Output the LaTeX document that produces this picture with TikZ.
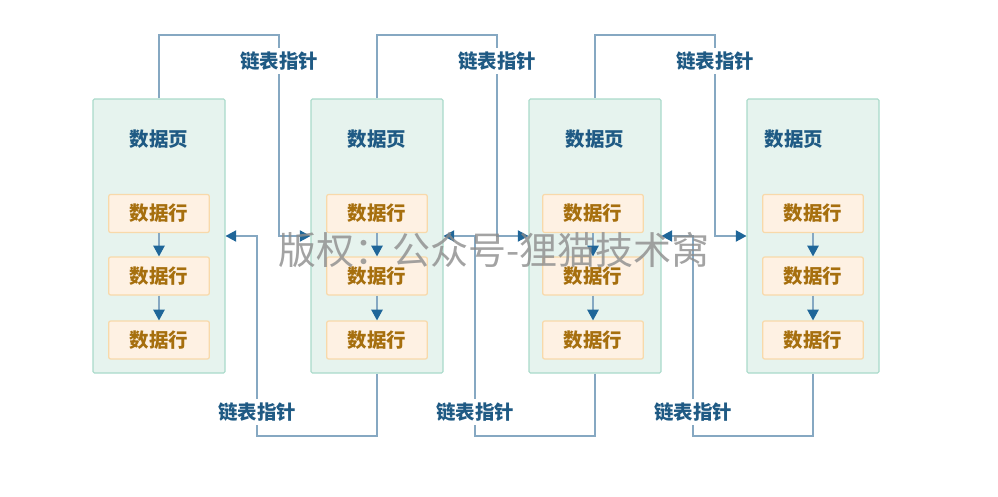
\documentclass[tikz,border=0pt]{standalone}
\usepackage{fontspec}
\setmainfont{Noto Sans CJK SC}
\usetikzlibrary{arrows.meta}

\definecolor{pagefill}{HTML}{E6F3EE}
\definecolor{pageline}{HTML}{A9DACA}
\definecolor{rowfill}{HTML}{FEF1E3}
\definecolor{rowline}{HTML}{F8D9AA}
\definecolor{rowtext}{HTML}{A66F0E}
\definecolor{titletext}{HTML}{1F5A84}
\definecolor{linkline}{HTML}{86A8C2}
\definecolor{tipblue}{HTML}{1F6699}

\tikzstyle{page} = [rectangle, draw=pageline, fill=pagefill, line width=0.8pt,
		rounded corners=1pt, minimum width=99pt, minimum height=205.5pt, inner sep=0pt]
\tikzstyle{rowbox} = [rectangle, draw=rowline, fill=rowfill, line width=0.9pt,
		rounded corners=1.5pt, minimum width=75.5pt, minimum height=28.5pt, inner sep=0pt,
		text=rowtext, font=\fontsize{14.6}{16}\selectfont\bfseries]
\tikzstyle{title} = [text=titletext, font=\fontsize{14.6}{16}\selectfont\bfseries]
\tikzstyle{ptr} = [fill=white, inner sep=3pt, text=titletext,
		font=\fontsize{14.6}{16}\selectfont\bfseries]
\tikzstyle{link} = [draw=linkline, line width=0.9pt,
		-{Triangle[color=tipblue, length=8pt, width=8.5pt]}]

\begin{document}
\begin{tikzpicture}[x=0.75pt, y=-0.75pt]
		\useasboundingbox (0,0) rectangle (998,496);
		%pages
		\node [page] (page1) at (159,236) {};
		\node [page] (page2) at (377,236) {};
		\node [page] (page3) at (595,236) {};
		\node [page] (page4) at (813,236) {};
		
		\node [title] (title1) at (159,139) {数据页};
		\node [title] (title2) at (377,139) {数据页};
		\node [title] (title3) at (595,139) {数据页};
		\node [title] (title4) at (794,139) {数据页};
		
		%rows of page 1
		\node [rowbox] (row1_1) at (159,213.5) {数据行};
		\node [rowbox] (row1_2) at (159,276) {数据行};
		\node [rowbox] (row1_3) at (159,340) {数据行};
		%rows of page 2
		\node [rowbox] (row2_1) at (377,213.5) {数据行};
		\node [rowbox] (row2_2) at (377,276) {数据行};
		\node [rowbox] (row2_3) at (377,340) {数据行};
		%rows of page 3
		\node [rowbox] (row3_1) at (593,213.5) {数据行};
		\node [rowbox] (row3_2) at (593,276) {数据行};
		\node [rowbox] (row3_3) at (593,340) {数据行};
		%rows of page 4
		\node [rowbox] (row4_1) at (813,213.5) {数据行};
		\node [rowbox] (row4_2) at (813,276) {数据行};
		\node [rowbox] (row4_3) at (813,340) {数据行};
		
		%arrows between rows
		\draw [link] (row1_1) -- (row1_2);
		\draw [link] (row1_2) -- (row1_3);
		\draw [link] (row2_1) -- (row2_2);
		\draw [link] (row2_2) -- (row2_3);
		\draw [link] (row3_1) -- (row3_2);
		\draw [link] (row3_2) -- (row3_3);
		\draw [link] (row4_1) -- (row4_2);
		\draw [link] (row4_2) -- (row4_3);
		
		%forward pointers
		\coordinate (top1) at (279,35);
		\coordinate (top2) at (497,35);
		\coordinate (top3) at (715,35);
		\draw [link] (page1.north) |- (top1) |- (page2.west);
		\draw [link] (page2.north) |- (top2) |- (page3.west);
		\draw [link] (page3.north) |- (top3) |- (page4.west);
		\node [ptr] (next1) at (279,61) {链表指针};
		\node [ptr] (next2) at (497,61) {链表指针};
		\node [ptr] (next3) at (715,61) {链表指针};
		
		%backward pointers
		\coordinate (bot1) at (257,436);
		\coordinate (bot2) at (475,436);
		\coordinate (bot3) at (693,436);
		\draw [link] (page2.south) |- (bot1) |- (page1.east);
		\draw [link] (page3.south) |- (bot2) |- (page2.east);
		\draw [link] (page4.south) |- (bot3) |- (page3.east);
		\node [ptr] (prev1) at (257,412) {链表指针};
		\node [ptr] (prev2) at (475,412) {链表指针};
		\node [ptr] (prev3) at (693,412) {链表指针};
		
		%watermark
		\node [text=black!45, opacity=0.8, font=\fontsize{28.5}{30}\selectfont] (mark) at (494,250) {版权：公众号-狸猫技术窝};
\end{tikzpicture}
\end{document}
